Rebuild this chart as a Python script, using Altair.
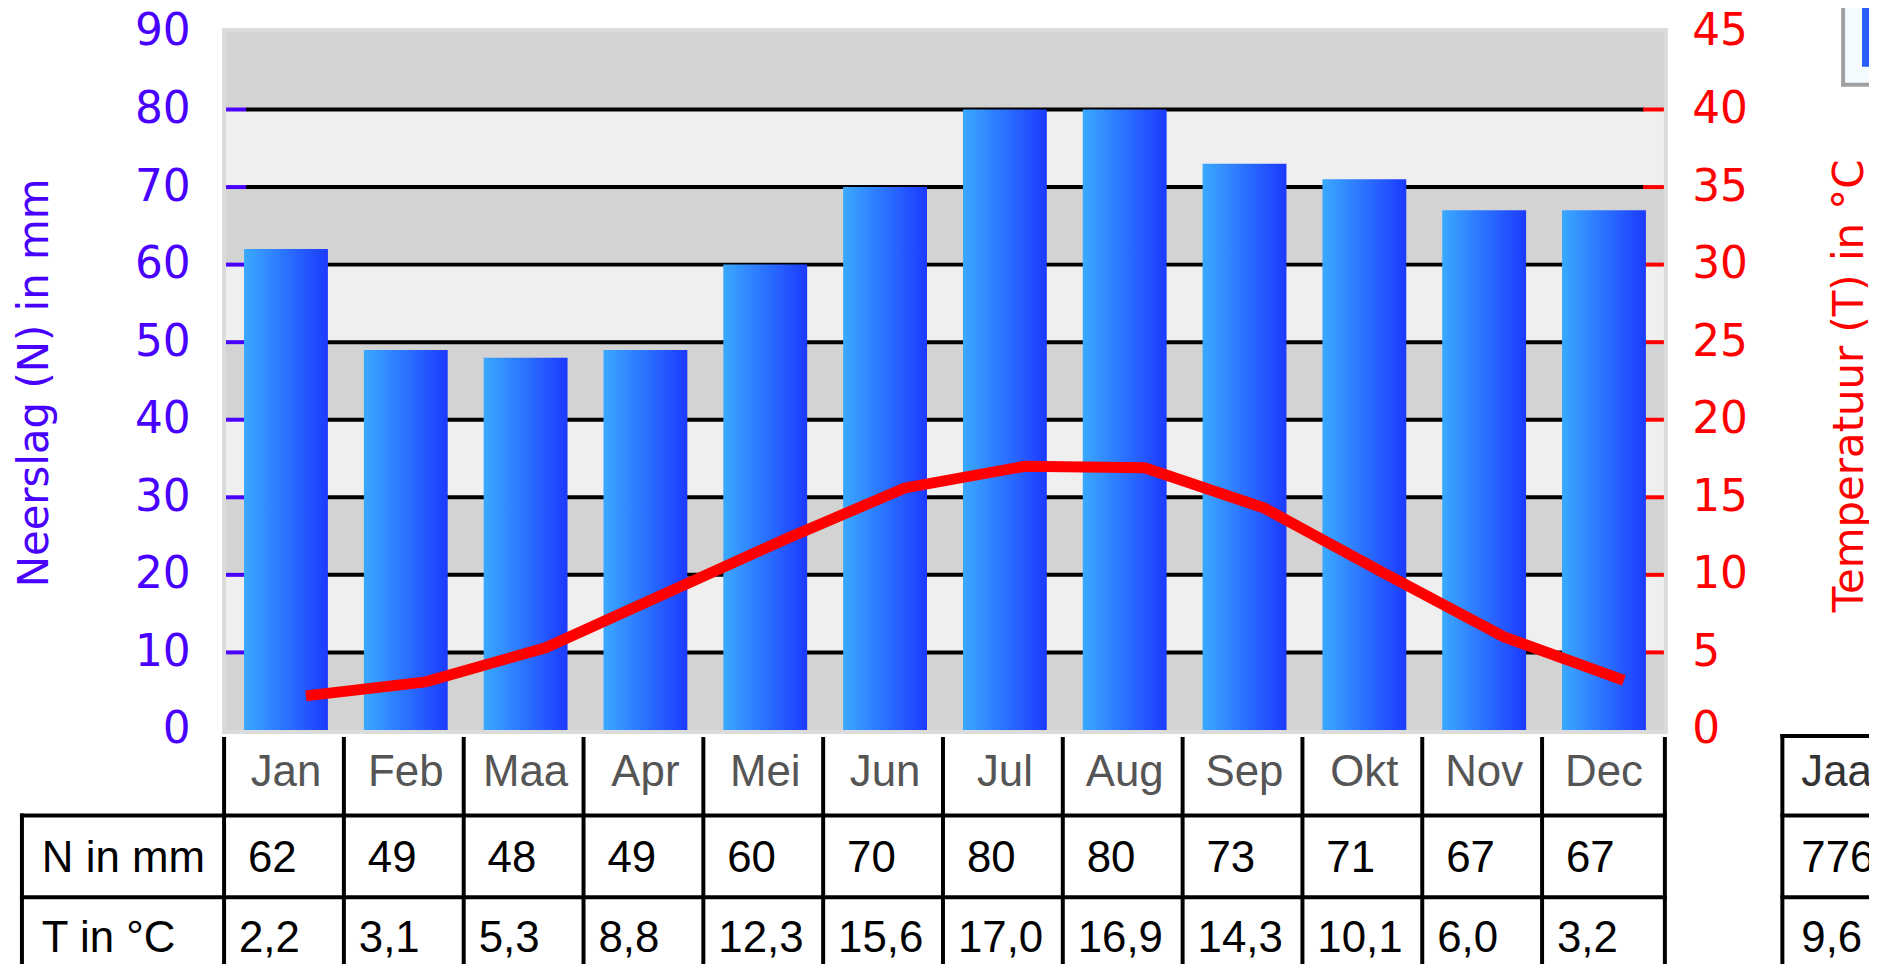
import altair as alt
import pandas as pd

# ---- data ----
months = ["Jan", "Feb", "Maa", "Apr", "Mei", "Jun", "Jul", "Aug", "Sep", "Okt", "Nov", "Dec"]
precip = [62, 49, 48, 49, 60, 70, 80, 80, 73, 71, 67, 67]
temp = [2.2, 3.1, 5.3, 8.8, 12.3, 15.6, 17.0, 16.9, 14.3, 10.1, 6.0, 3.2]
precip_ticks = [0, 10, 20, 30, 40, 50, 60, 70, 80, 90]
temp_ticks = [0, 5, 10, 15, 20, 25, 30, 35, 40, 45]
grid_values = [10, 20, 30, 40, 50, 60, 70, 80]
band_lo = [0, 10, 20, 30, 40, 50, 60, 70, 80]
band_hi = [10, 20, 30, 40, 50, 60, 70, 80, 90]
band_fill = ["#d3d3d3", "#efefef", "#d3d3d3", "#efefef", "#d3d3d3",
             "#efefef", "#d3d3d3", "#efefef", "#d3d3d3"]
row_labels = ["N in mm", "T in °C"]
year_header = "Jaar"
year_precip = "776"
year_temp = "9,6"

W, H = 1444, 701

df = pd.DataFrame({"Maand": months, "N": precip, "T": temp})
df["N_txt"] = [str(v) for v in precip]
df["T_txt"] = [f"{v:.1f}".replace(".", ",") for v in temp]
bands = pd.DataFrame({"lo": band_lo, "hi": band_hi, "fill": band_fill})
grid = pd.DataFrame({"v": grid_values})
one = pd.DataFrame({"k": [0]})

BLUE = "#4800ff"
RED = "#ff0000"
TFONT = "Liberation Sans"


def X(**kw):
    return alt.X("Maand:N", sort=months,
                 scale=alt.Scale(domain=months, paddingInner=0, paddingOuter=0),
                 axis=None, **kw)


yN = alt.Scale(domain=[0, 90], nice=False, zero=True)
yT = alt.Scale(domain=[0, 45], nice=False, zero=True)

left_axis = alt.Axis(title="Neerslag (N) in mm", values=precip_ticks,
                     titleColor=BLUE, titleFont="DejaVu Sans", titleFontSize=42,
                     titleFontWeight="normal", titleAngle=270, titleX=-179, titleY=352,
                     titleAlign="center", titleBaseline="alphabetic",
                     labelColor=BLUE, labelFont="DejaVu Sans", labelFontSize=44,
                     labelPadding=36, ticks=False, tickSize=0, domain=False, grid=False,
                     orient="left")


def YN(field):
    return alt.Y(field, scale=yN, axis=left_axis, title="Neerslag (N) in mm")


frame = alt.Chart(one).mark_rect(color="#dbdbdb").encode(
    x=alt.value(-4), x2=alt.value(W + 4), y=alt.value(-4), y2=alt.value(H + 4))

bg = alt.Chart(bands).mark_rect().encode(
    x=alt.value(0), x2=alt.value(W),
    y=YN("lo:Q"), y2="hi:Q",
    fill=alt.Fill("fill:N", scale=None))

grid_black = alt.Chart(grid).mark_rule(color="black", strokeWidth=4).encode(
    x=alt.value(20), x2=alt.value(W - 20), y=YN("v:Q"))
tick_blue = alt.Chart(grid).mark_rule(color=BLUE, strokeWidth=4).encode(
    x=alt.value(0), x2=alt.value(20), y=YN("v:Q"))
tick_red = alt.Chart(grid).mark_rule(color=RED, strokeWidth=4).encode(
    x=alt.value(W - 21), x2=alt.value(W), y=YN("v:Q"))

gradient = {"gradient": "linear", "x1": 0, "x2": 1, "y1": 0, "y2": 0,
            "stops": [{"offset": 0, "color": "#3aa9ff"},
                      {"offset": 1, "color": "#1c3aff"}]}

bars = alt.Chart(df).mark_bar(width=alt.RelativeBandSize(0.7), color=gradient).encode(
    x=X(), y=YN("N:Q"))

# ---- table below the plot ----
txt = dict(font=TFONT, fontSize=44, baseline="alphabetic")
hdr = alt.Chart(df).mark_text(align="center", color="#555555", **txt).encode(
    x=X(), y=alt.value(757), text="Maand:N")
nrow = alt.Chart(df).mark_text(align="left", dx=22, color="black", **txt).encode(
    x=X(bandPosition=0), y=alt.value(844), text="N_txt:N")
trow = alt.Chart(df).mark_text(align="left", dx=13, color="black", **txt).encode(
    x=X(bandPosition=0), y=alt.value(924), text="T_txt:N")

lab_n = alt.Chart(one).mark_text(align="left", color="black", text=row_labels[0], **txt).encode(
    x=alt.value(-185), y=alt.value(844))
lab_t = alt.Chart(one).mark_text(align="left", color="black", text=row_labels[1], **txt).encode(
    x=alt.value(-185), y=alt.value(924))

jaar_h = alt.Chart(one).mark_text(align="left", color="#333333", text=year_header, **txt).encode(
    x=alt.value(1582), y=alt.value(757))
jaar_n = alt.Chart(one).mark_text(align="left", color="black", text=year_precip, **txt).encode(
    x=alt.value(1582), y=alt.value(844))
jaar_t = alt.Chart(one).mark_text(align="left", color="black", text=year_temp, **txt).encode(
    x=alt.value(1582), y=alt.value(924))

rule = dict(color="black", strokeWidth=4)
vlines = alt.Chart(df).mark_rule(xOffset=-2, **rule).encode(
    x=X(bandPosition=0), y=alt.value(708), y2=alt.value(990))
vlast = alt.Chart(one).mark_rule(**rule).encode(
    x=alt.value(W + 1), y=alt.value(708), y2=alt.value(990))
vleft = alt.Chart(one).mark_rule(**rule).encode(
    x=alt.value(-205), y=alt.value(785), y2=alt.value(990))
h1 = alt.Chart(one).mark_rule(**rule).encode(
    x=alt.value(-207), x2=alt.value(W + 3), y=alt.value(787))
h2 = alt.Chart(one).mark_rule(**rule).encode(
    x=alt.value(-207), x2=alt.value(W + 3), y=alt.value(869))
jv = alt.Chart(one).mark_rule(**rule).encode(
    x=alt.value(1563), y=alt.value(705), y2=alt.value(990))
jh0 = alt.Chart(one).mark_rule(**rule).encode(
    x=alt.value(1561), x2=alt.value(1720), y=alt.value(707))
jh1 = alt.Chart(one).mark_rule(**rule).encode(
    x=alt.value(1561), x2=alt.value(1720), y=alt.value(787))
jh2 = alt.Chart(one).mark_rule(**rule).encode(
    x=alt.value(1561), x2=alt.value(1720), y=alt.value(869))

# small partial image in the top-right corner
icon = alt.Chart(one).mark_rect(fill="#f3fbff", stroke="#a0a0a0", strokeWidth=4).encode(
    x=alt.value(1624), x2=alt.value(1720), y=alt.value(-40), y2=alt.value(53))
icon_strip = alt.Chart(one).mark_rect(fill="#2a5cff").encode(
    x=alt.value(1643), x2=alt.value(1720), y=alt.value(-40), y2=alt.value(35))

left = alt.layer(frame, bg, grid_black, tick_blue, tick_red, bars,
                 hdr, nrow, trow, lab_n, lab_t, jaar_h, jaar_n, jaar_t,
                 vlines, vlast, vleft, h1, h2, jv, jh0, jh1, jh2, icon, icon_strip)

line = alt.Chart(df).mark_line(color=RED, strokeWidth=11, xOffset=20).encode(
    x=X(),
    y=alt.Y("T:Q", scale=yT,
            axis=alt.Axis(orient="right", title="Temperatuur (T) in °C", values=temp_ticks,
                          titleColor=RED, titleFont="DejaVu Sans", titleFontSize=42,
                          titleFontWeight="normal", titleAngle=270, titleX=199, titleY=355,
                          titleAlign="center", titleBaseline="alphabetic",
                          labelColor=RED, labelFont="DejaVu Sans", labelFontSize=44,
                          labelPadding=28, ticks=False, tickSize=0, domain=False, grid=False)))

chart = alt.layer(left, line).resolve_scale(y="independent").properties(
    width=W, height=H,
    padding={"left": 219, "top": 22, "right": 206, "bottom": 233},
    autosize=alt.AutoSizeParams(type="none"),
    background="white",
).configure_view(stroke=None)

chart.save("out.html", embed_options={"renderer": "svg", "actions": False})
